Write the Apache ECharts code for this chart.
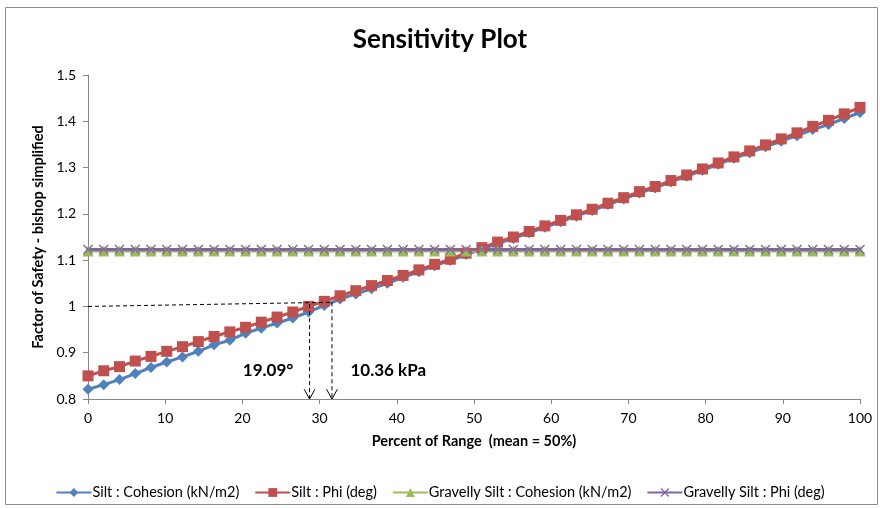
<!DOCTYPE html>
<html>
<head>
<meta charset="utf-8">
<script src="https://cdn.jsdelivr.net/npm/echarts@6/dist/echarts.min.js"></script>
<style>
  html, body { margin: 0; padding: 0; background: #fff; }
  #chart { width: 880px; height: 508px; }
</style>
</head>
<body>
<div id="chart"></div>
<script>
const percentOfRange = [0, 2.04, 4.08, 6.12, 8.16, 10.2, 12.24, 14.29, 16.33, 18.37,
    20.41, 22.45, 24.49, 26.53, 28.57, 30.61, 32.65, 34.69, 36.73, 38.78,
    40.82, 42.86, 44.9, 46.94, 48.98, 51.02, 53.06, 55.1, 57.14, 59.18,
    61.22, 63.27, 65.31, 67.35, 69.39, 71.43, 73.47, 75.51, 77.55, 79.59,
    81.63, 83.67, 85.71, 87.76, 89.8, 91.84, 93.88, 95.92, 97.96, 100]

const siltCohesion = [0.821, 0.831, 0.842, 0.855, 0.868, 0.880, 0.891, 0.903, 0.917, 0.927,
    0.942, 0.953, 0.964, 0.975, 0.988, 1.002, 1.016, 1.027, 1.038, 1.050,
    1.063, 1.075, 1.088, 1.099, 1.112, 1.124, 1.136, 1.147, 1.159, 1.171,
    1.183, 1.195, 1.207, 1.220, 1.232, 1.245, 1.256, 1.269, 1.281, 1.294,
    1.307, 1.320, 1.332, 1.345, 1.357, 1.369, 1.382, 1.393, 1.406, 1.419]

const siltPhi = [0.850, 0.861, 0.870, 0.882, 0.892, 0.903, 0.913, 0.924, 0.935, 0.945,
    0.955, 0.966, 0.977, 0.988, 1.000, 1.011, 1.023, 1.034, 1.045, 1.056,
    1.067, 1.079, 1.091, 1.102, 1.115, 1.127, 1.139, 1.150, 1.162, 1.174,
    1.186, 1.198, 1.210, 1.223, 1.235, 1.248, 1.259, 1.272, 1.284, 1.297,
    1.310, 1.323, 1.336, 1.349, 1.362, 1.375, 1.389, 1.402, 1.416, 1.430]

const gravellyCohesion = [1.12, 1.12, 1.12, 1.12, 1.12, 1.12, 1.12, 1.12, 1.12, 1.12,
    1.12, 1.12, 1.12, 1.12, 1.12, 1.12, 1.12, 1.12, 1.12, 1.12,
    1.12, 1.12, 1.12, 1.12, 1.12, 1.12, 1.12, 1.12, 1.12, 1.12,
    1.12, 1.12, 1.12, 1.12, 1.12, 1.12, 1.12, 1.12, 1.12, 1.12,
    1.12, 1.12, 1.12, 1.12, 1.12, 1.12, 1.12, 1.12, 1.12, 1.12]

const gravellyPhi = [1.123, 1.123, 1.123, 1.123, 1.123, 1.123, 1.123, 1.123, 1.123, 1.123,
    1.123, 1.123, 1.123, 1.123, 1.123, 1.123, 1.123, 1.123, 1.123, 1.123,
    1.123, 1.123, 1.123, 1.123, 1.123, 1.123, 1.123, 1.123, 1.123, 1.123,
    1.123, 1.123, 1.123, 1.123, 1.123, 1.123, 1.123, 1.123, 1.123, 1.123,
    1.123, 1.123, 1.123, 1.123, 1.123, 1.123, 1.123, 1.123, 1.123, 1.123]

const seriesNames = ['Silt : Cohesion (kN/m2)', 'Silt : Phi (deg)',
    'Gravelly Silt : Cohesion (kN/m2)', 'Gravelly Silt : Phi (deg)']

// FS = 1 crossing read-outs
const guideLevel = [[0, 1.0], [31.6, 1.009]]
const phiDrop = [[28.7, 1.005], [28.7, 0.8]]
const cohesionDrop = [[31.6, 1.009], [31.6, 0.8]]
const phiArrow = [[28.0, 0.821], [28.7, 0.8], [29.4, 0.821]]
const cohesionArrow = [[30.9, 0.821], [31.6, 0.8], [32.3, 0.821]]
const phiLabel = { text: '19.09°', at: [26.6, 0.861] }
const cohesionLabel = { text: '10.36 kPa', at: [34.0, 0.861] }

const FONT = 'Lato, "Liberation Sans", sans-serif'
const xMarker = 'path://M0,1L1,0L5,4L9,0L10,1L6,5L10,9L9,10L5,6L1,10L0,9L4,5Z'

const pairs = (ys) => percentOfRange.map((x, i) => [x, ys[i]])

const dataLine = (name, ys, color, symbol, size) => ({
    name,
    type: 'line',
    data: pairs(ys),
    symbol,
    symbolSize: size,
    showAllSymbol: true,
    itemStyle: { color },
    lineStyle: { color, width: 3 },
    emphasis: { disabled: true },
    animation: false
})

const guide = (data, dashed) => ({
    type: 'line',
    data,
    symbol: 'none',
    silent: true,
    lineStyle: { color: '#000', width: 1, type: dashed ? [4, 3] : 'solid' },
    animation: false,
    z: 5
})

const chart = echarts.init(document.getElementById('chart'))
chart.setOption({
    backgroundColor: '#fff',
    animation: false,
    title: {
        text: 'Sensitivity Plot',
        left: 'center',
        top: 22,
        textStyle: { fontFamily: FONT, fontSize: 26, fontWeight: 'bold', color: '#000' }
    },
    legend: {
        data: seriesNames,
        left: 'center',
        top: 480,
        itemWidth: 35,
        itemHeight: 11,
        itemGap: 15,
        textStyle: { fontFamily: FONT, fontSize: 14.5, color: '#000', padding: [0, 0, 0, -4] }
    },
    grid: { left: 88, right: 20, top: 75, bottom: 109 },
    xAxis: {
        type: 'value',
        min: 0,
        max: 100,
        interval: 10,
        name: 'Percent of Range  (mean = 50%)',
        nameLocation: 'middle',
        nameGap: 35,
        nameTextStyle: { fontFamily: FONT, fontSize: 14.5, fontWeight: 'bold', color: '#000' },
        axisLine: { lineStyle: { color: '#868686' } },
        axisTick: { lineStyle: { color: '#868686' }, length: 5 },
        axisLabel: { fontFamily: FONT, fontSize: 14, color: '#000', margin: 12 },
        splitLine: { show: false }
    },
    yAxis: {
        type: 'value',
        min: 0.8,
        max: 1.5,
        interval: 0.1,
        name: 'Factor of Safety - bishop simplified',
        nameLocation: 'middle',
        nameGap: 39,
        nameTextStyle: { fontFamily: FONT, fontSize: 14.5, fontWeight: 'bold', color: '#000' },
        axisLine: { show: true, lineStyle: { color: '#868686' } },
        axisTick: { show: true, lineStyle: { color: '#868686' }, length: 5 },
        axisLabel: {
            fontFamily: FONT, fontSize: 14, color: '#000', margin: 12,
            formatter: (v) => String(Math.round(v * 10) / 10)
        },
        splitLine: { show: false }
    },
    series: [
        dataLine(seriesNames[0], siltCohesion, '#4F81BD', 'diamond', 11),
        dataLine(seriesNames[1], siltPhi, '#C0504D', 'rect', 11),
        dataLine(seriesNames[2], gravellyCohesion, '#9BBB59', 'triangle', 11),
        dataLine(seriesNames[3], gravellyPhi, '#8064A2', xMarker, 10),
        guide(guideLevel, true),
        guide(phiDrop, true),
        guide(cohesionDrop, true),
        guide(phiArrow, false),
        guide(cohesionArrow, false)
    ]
})

// place the two read-out labels in data space
const p1 = chart.convertToPixel({ gridIndex: 0 }, phiLabel.at)
const p2 = chart.convertToPixel({ gridIndex: 0 }, cohesionLabel.at)
chart.setOption({
    graphic: [{
        type: 'rect',
        silent: true,
        shape: { x: 5.5, y: 7.5, width: 872, height: 497 },
        style: { fill: 'none', stroke: '#8c8c8c', lineWidth: 1 }
    }, {
        type: 'text',
        x: p1[0], y: p1[1],
        style: {
            text: phiLabel.text, fill: '#000', align: 'right', verticalAlign: 'middle',
            font: 'bold 17px ' + FONT
        }
    }, {
        type: 'text',
        x: p2[0], y: p2[1],
        style: {
            text: cohesionLabel.text, fill: '#000', align: 'left', verticalAlign: 'middle',
            font: 'bold 17px ' + FONT
        }
    }]
})
</script>
</body>
</html>
